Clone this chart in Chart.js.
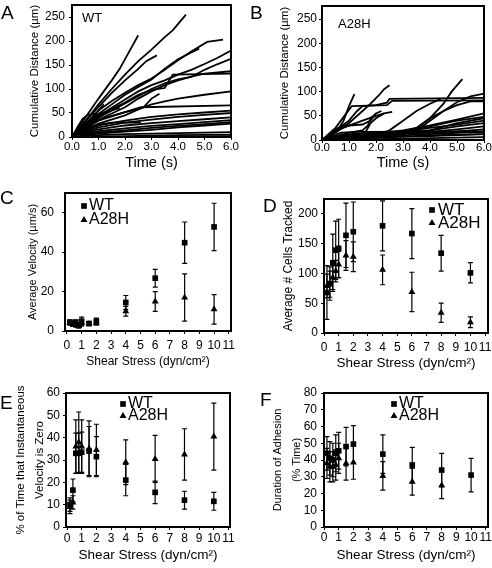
<!DOCTYPE html>
<html lang="en">
<head>
  <meta charset="UTF-8">
  <title>WT vs A28H rolling adhesion</title>
  <style>
    body { margin: 0; background: #fff; }
    #fig { position: relative; width: 492px; height: 568px; background: #fff; overflow: hidden; }
    #fig canvas { position: absolute; }
    .tag { position: absolute; font: 19px 'Liberation Sans', Arial, sans-serif; line-height: 1; color: #000; }
  </style>
</head>
<body>
  <div id="fig">
    <canvas id="cA" width="240" height="178" style="left:0;top:0"></canvas>
    <canvas id="cB" width="247" height="178" style="left:245px;top:0"></canvas>
    <canvas id="cC" width="245" height="192" style="left:0;top:180px"></canvas>
    <canvas id="cD" width="247" height="192" style="left:245px;top:180px"></canvas>
    <canvas id="cE" width="245" height="198" style="left:0;top:370px"></canvas>
    <canvas id="cF" width="247" height="198" style="left:245px;top:370px"></canvas>
    <div class="tag" style="left:1px;top:3px">A</div>
    <div class="tag" style="left:250px;top:3px">B</div>
    <div class="tag" style="left:0;top:188px">C</div>
    <div class="tag" style="left:263px;top:196px">D</div>
    <div class="tag" style="left:0;top:393px">E</div>
    <div class="tag" style="left:260px;top:390px">F</div>
  </div>

  <script src="https://cdn.jsdelivr.net/npm/chart.js@4.4.3/dist/chart.umd.min.js"></script>
  <script>
    // ---- data ----
    const timeTicks = [0, 1, 2, 3, 4, 5, 6];
    const distTicks = [0, 50, 100, 150, 200, 250];

    // cumulative distance tracks [time (s), distance (um)]
    const wtTracks = [
      [[0,0],[0.5,32],[1,68],[1.5,100],[2,130],[2.5,158],[3,182],[3.5,208],[3.8,222],[4.3,255]],
      [[0,0],[0.5,40],[1,80],[1.5,118],[1.8,142],[2.1,172],[2.3,192],[2.5,212]],
      [[0,0],[0.5,33],[1,62],[1.5,92],[2,118],[2.5,142],[2.8,158],[3.2,170]],
      [[0,0],[1,55],[1.5,75],[2,92],[2.5,108],[3,122],[3.5,140],[4,160],[4.5,178],[5.1,198],[5.7,203]],
      [[0,0],[1,48],[1.5,68],[2,88],[2.5,104],[3,120],[3.5,142],[4,162],[4.5,176],[4.8,184]],
      [[0,0],[1,44],[2,78],[2.5,95],[3,108],[3.5,118],[4,130],[4.5,140],[5,152],[5.5,165],[6,180]],
      [[0,0],[1,40],[2,70],[2.5,85],[3,100],[3.5,112],[4,120],[4.5,125],[5,140],[5.5,152],[6,163]],
      [[0,0],[1,36],[2,62],[2.5,80],[3,95],[3.5,108],[4,118],[4.5,126],[5,132],[6,137]],
      [[0,0],[1,42],[1.5,58],[2,72],[2.5,88],[3,98],[3.5,102],[3.8,130],[6,132]],
      [[0,0],[1,34],[2,52],[2.5,58],[3,68],[3.5,74],[4,80],[5,88],[6,95]],
      [[0,0],[0.5,22],[1,36],[1.5,44],[2,52],[2.6,62],[6,66]],
      [[0,0],[1,28],[2,45],[2.4,55],[2.7,62],[3.0,80],[3.3,90]],
      [[0,0],[1,24],[2,34],[3,42],[4,47],[5,51],[6,55]],
      [[0,0],[1,20],[2,30],[3,36],[4,42],[5,46],[6,50]],
      [[0,0],[1,16],[2,24],[3,29],[4,33],[5,37],[6,41]],
      [[0,0],[1,12],[2,18],[3,23],[4,27],[5,31],[6,35]],
      [[0,0],[1,9],[2,14],[3,19],[4,23],[5,27],[6,31]],
      [[0,0],[1,7],[2,11],[3,15],[4,20],[5,24],[6,28]],
      [[0,0],[1,4],[2,6],[3,7],[4,8],[5,9],[6,10]],
      [[0,0],[2,2],[4,4],[6,5]],
      [[0,0],[0.2,20],[0.4,38],[0.6,46],[0.9,48]],
      [[0,0],[0.5,18],[1,26],[1.5,30],[2.6,30]],
      [[0,0],[0.5,28],[1,48],[1.5,56],[1.8,60]],
      [[0,0],[0.3,15],[0.7,35],[1,55],[1.2,68]],
      [[3.8,0],[5,1],[6,2]]
    ];
    const a28hTracks = [
      [[0,0],[0.3,10],[0.6,22],[0.8,40],[1.0,70],[1.2,95]],
      [[0,0],[0.5,15],[1,35],[1.5,60],[1.8,75],[2.1,92],[2.3,105],[2.5,113]],
      [[0,0],[0.5,20],[1,40],[1.3,60],[1.5,70],[2.0,72],[2.4,77],[2.5,85],[6,87]],
      [[0,0],[0.5,25],[0.9,55],[1.1,70],[2.4,72],[2.6,81],[6,82]],
      [[0,0],[1,5],[2,10],[3,14],[3.5,25],[4,45],[4.5,75],[4.8,100],[5.2,126]],
      [[0,0],[1,5],[2,8],[3,12],[3.5,20],[4,40],[4.5,60],[5,78],[5.5,90],[6,96]],
      [[0,0],[2,6],[3,10],[3.5,25],[4,45],[4.5,60],[5,72],[5.5,80],[6,80]],
      [[0,0],[1,8],[1.6,15],[1.8,35],[2.0,45],[2.3,55],[2.6,58]],
      [[0,0],[0.5,18],[1,30],[1.5,40],[2,50],[2.3,55]],
      [[0,0],[1,5],[2,10],[2.5,20],[3,40],[3.5,60],[4,75],[4.4,85]],
      [[0,0],[1,8],[2,14],[3,20],[4,30],[5,42],[6,55]],
      [[0,0],[1,6],[2,12],[3,18],[4,28],[5,40],[6,48]],
      [[0,0],[1,7],[2,12],[3,15],[4,20],[5,35],[6,45]],
      [[0,0],[1,10],[2,14],[3,18],[4,25],[5,32],[6,40]],
      [[0,0],[1,12],[2,15],[3,17],[4,20],[5,28],[6,35]],
      [[0,0],[1,10],[2,14],[3,15],[4,17],[5,22],[6,28]],
      [[0,0],[1,8],[2,12],[3,14],[4,15],[5,18],[6,22]],
      [[0,0],[1,5],[2,8],[3,10],[4,12],[5,15],[6,17]],
      [[0,0],[1,3],[2,5],[3,7],[4,8],[5,10],[6,12]],
      [[0,0],[2,2],[4,4],[6,6]],
      [[0,0],[0.3,10],[0.6,25],[0.9,30],[1.1,40]],
      [[0,0],[0.5,20],[1,30],[1.5,32],[1.8,40],[2,55],[2.2,60]],
      [[0,0],[1,15],[1.5,20],[1.7,30],[1.8,45],[2.0,55]],
      [[0,0],[0.7,15],[1.3,17],[6,18]],
      [[0,0],[2,5],[4.3,10],[6,12]]
    ];

    const shear = [0.2, 0.4, 0.6, 0.8, 1, 1.5, 2, 4, 6, 8, 10];
    const shearTicks = [0, 1, 2, 3, 4, 5, 6, 7, 8, 9, 10, 11];

    const velTicks = [0, 20, 40, 60];
    const velWT = [4.5, 3.5, 4.5, 3, 5, 3.8, 5, 14.5, 26.8, 44.8, 52.8];
    const velWTErr = [1, 1, 1, 1, 2, 1, 1.5, 3.5, 4.5, 10.5, 12];
    const velA28H = [4, 3.5, 3, 2.5, 4, 3.5, 4, 10, 15, 17, 11];
    const velA28HErr = [1, 1, 1, 1, 1.5, 0.8, 1, 2.5, 5, 12, 7.5];

    const cellTicks = [0, 50, 100, 150, 200];
    const cellsWT = [68, 83, 118, 139, 142, 164, 170, 180, 167, 134, 101];
    const cellsWTErr = [45, 28, 48, 49, 49, 54, 50, 42, 42, 30, 17];
    const cellsA28H = [79, 82, 93, 104, 115, 130, 128, 106, 69, 34, 18];
    const cellsA28HErr = [20, 22, 20, 18, 22, 25, 25, 25, 33, 16, 9];

    const pauseTicks = [0, 10, 20, 30, 40, 50, 60];
    const pauseWT = [10, 16.5, 33, 33, 33.5, 34, 31.5, 21, 15.5, 12, 11.5];
    const pauseWTErr = [3, 5, 9, 9, 9, 11, 9, 7, 5, 4, 4];
    const pauseA28H = [9, 11, 36, 38, 36, 35, 34.5, 29, 30.5, 32.5, 40.5];
    const pauseA28HErr = [3, 3, 12, 13.5, 12, 12.5, 11.5, 10, 10.5, 11.5, 15];

    const adhTicks = [0, 10, 20, 30, 40, 50, 60, 70, 80];
    const adhWT = [44, 41, 40, 44, 45.5, 48, 49.5, 43.5, 37, 34, 31];
    const adhWTErr = [10, 10, 10, 11, 11, 11.5, 11, 11.5, 10.5, 10, 10];
    const adhA28H = [38, 36, 36, 37, 41, 38, 38.5, 30.5, 27, 25, null];
    const adhA28HErr = [9, 9, 9, 9, 9, 10, 10, 8.5, 8, 8, null];

    // ---- drawing ----
    const FONT = "'Liberation Sans', Arial, sans-serif";
    Chart.defaults.font.family = FONT;
    Chart.defaults.color = '#000';

    // error bars, plot frame, in-plot legend/notes
    const framePlugin = {
      id: 'frame',
      beforeDatasetsDraw(chart) {
        const {ctx, scales: {x, y}} = chart;
        ctx.save();
        ctx.strokeStyle = '#000';
        ctx.lineWidth = 1.2;
        chart.data.datasets.forEach(ds => {
          if (!ds.err) return;
          ds.data.forEach((p, i) => {
            const e = ds.err[i];
            if (p.y == null || e == null) return;
            const px = x.getPixelForValue(p.x);
            const hi = y.getPixelForValue(p.y + e);
            const lo = y.getPixelForValue(Math.max(p.y - e, 0));
            ctx.beginPath();
            ctx.moveTo(px, hi); ctx.lineTo(px, lo);
            ctx.moveTo(px - 2.5, hi); ctx.lineTo(px + 2.5, hi);
            ctx.moveTo(px - 2.5, lo); ctx.lineTo(px + 2.5, lo);
            ctx.stroke();
          });
        });
        ctx.restore();
      },
      afterDraw(chart, args, o) {
        const {ctx, chartArea: a} = chart;
        ctx.save();
        ctx.strokeStyle = '#000';
        ctx.lineWidth = 2;
        ctx.strokeRect(a.left, a.top, a.right - a.left, a.bottom - a.top);
        ctx.fillStyle = '#000';
        ctx.textBaseline = 'middle';
        if (o.note) {
          ctx.font = o.note.font + ' ' + FONT;
          ctx.fillText(o.note.text, o.note.x, o.note.y);
        }
        if (o.legend) {
          ctx.font = o.legend.font + ' ' + FONT;
          o.legend.rows.forEach((yy, i) => {
            const ds = chart.data.datasets[i];
            Chart.helpers.drawPoint(ctx, {pointStyle: ds.pointStyle, radius: ds.pointRadius, rotation: 0, borderWidth: 0}, o.legend.mx, yy);
            ctx.fillText(ds.label, o.legend.tx, yy);
          });
        }
        ctx.restore();
      }
    };

    function axes(o) {
      const tickGrid = {display: true, drawOnChartArea: false, drawTicks: true, tickLength: 3, color: '#000', lineWidth: 1};
      return {
        x: {
          type: 'linear', min: o.xmin, max: o.xmax,
          afterBuildTicks: s => { s.ticks = o.xticks.map(v => ({value: v})); },
          afterFit: s => { s.height = o.xh; s.paddingLeft = 0; s.paddingRight = 0; },
          grid: tickGrid, border: {display: false},
          ticks: {padding: o.xpad, autoSkip: false, maxRotation: 0, font: {size: o.xtf},
                  callback: o.xfmt || (v => v)},
          title: {display: true, text: o.xtitle, font: {size: o.xts}, padding: {top: 0, bottom: o.xtp}}
        },
        y: {
          type: 'linear', min: 0, max: o.ymax,
          afterBuildTicks: s => { s.ticks = o.yticks.map(v => ({value: v})); },
          afterFit: s => { s.width = o.yw; s.paddingTop = 0; s.paddingBottom = 0; },
          grid: tickGrid, border: {display: false},
          ticks: {padding: o.ypad, autoSkip: false, font: {size: 12}},
          title: {display: true, text: o.ytitle, font: {size: o.yts, lineHeight: o.ylh || 1.2},
                  padding: {top: o.ytp, bottom: 0}}
        }
      };
    }

    function baseOptions(o, frame) {
      return {
        responsive: false,
        animation: false,
        events: [],
        layout: {padding: {top: o.pt, right: o.pr, left: 0, bottom: 0}},
        plugins: {legend: {display: false}, tooltip: {enabled: false}, frame: frame},
        scales: axes(o)
      };
    }

    function trackChart(id, tracks, o, note) {
      new Chart(document.getElementById(id), {
        type: 'scatter',
        data: {
          datasets: tracks.map(t => ({
            data: t.map(p => ({x: p[0], y: p[1]})),
            showLine: true, borderColor: '#000', borderWidth: 1.8, pointRadius: 0, tension: 0
          }))
        },
        options: baseOptions(o, {note: note}),
        plugins: [framePlugin]
      });
    }

    function pairs(ys) { return shear.map((x, i) => ({x: x, y: ys[i]})); }

    function statChart(id, wt, wtErr, mut, mutErr, o, legend) {
      new Chart(document.getElementById(id), {
        type: 'scatter',
        data: {
          datasets: [
            {label: 'WT', data: pairs(wt), err: wtErr, pointStyle: 'rect', pointRadius: 4,
             backgroundColor: '#000', borderWidth: 0},
            {label: 'A28H', data: pairs(mut), err: mutErr, pointStyle: 'triangle', pointRadius: 4,
             backgroundColor: '#000', borderWidth: 0}
          ]
        },
        options: baseOptions(o, {legend: legend}),
        plugins: [framePlugin]
      });
    }

    const fixed1 = v => Number(v).toFixed(1);

    trackChart('cA', wtTracks, {
      pt: 5, pr: 9, yw: 72, xh: 41, xmin: 0, xmax: 6, ymax: 275,
      xticks: timeTicks, yticks: distTicks, xfmt: fixed1, xtf: 11.5, xpad: 0, ypad: 4,
      xtitle: 'Time (s)', xts: 14.5, xtp: 6,
      ytitle: 'Cumulative Distance (\u00b5m)', yts: 11.5, ytp: 28
    }, {text: 'WT', x: 82, y: 18, font: '13px'});

    trackChart('cB', a28hTracks, {
      pt: 6, pr: 8, yw: 77, xh: 38, xmin: 0, xmax: 6, ymax: 277,
      xticks: timeTicks, yticks: distTicks, xfmt: fixed1, xtf: 11.5, xpad: -2, ypad: 2,
      xtitle: 'Time (s)', xts: 14.5, xtp: 6,
      ytitle: 'Cumulative Distance (\u00b5m)', yts: 11.5, ytp: 33
    }, {text: 'A28H', x: 93, y: 24, font: '13px'});

    statChart('cC', velWT, velWTErr, velA28H, velA28HErr, {
      pt: 13, pr: 14, yw: 65, xh: 41, xmin: -0.13, xmax: 11.15, ymax: 70,
      xticks: shearTicks, yticks: velTicks, xtf: 12, xpad: 4, ypad: 8,
      xtitle: 'Shear Stress (dyn/cm\u00b2)', xts: 12, xtp: 3,
      ytitle: 'Average Velocity (\u00b5m/s)', yts: 11, ytp: 26
    }, {font: '16px', mx: 84, tx: 89, rows: [26, 40]});

    statChart('cD', cellsWT, cellsWTErr, cellsA28H, cellsA28HErr, {
      pt: 19, pr: 1.5, yw: 79, xh: 39, xmin: 0, xmax: 11.2, ymax: 225,
      xticks: shearTicks, yticks: cellTicks, xtf: 12, xpad: 4, ypad: 3,
      xtitle: 'Shear Stress (dyn/cm\u00b2)', xts: 13.5, xtp: 1,
      ytitle: 'Average # Cells Tracked', yts: 12, ytp: 36
    }, {font: '17px', mx: 187, tx: 193, rows: [30, 43]});

    statChart('cE', pauseWT, pauseWTErr, pauseA28H, pauseA28HErr, {
      pt: 23, pr: 15, yw: 66, xh: 41, xmin: -0.07, xmax: 11.1, ymax: 60,
      xticks: shearTicks, yticks: pauseTicks, xtf: 12, xpad: 1, ypad: 3,
      xtitle: 'Shear Stress (dyn/cm\u00b2)', xts: 13.5, xtp: 5,
      ytitle: ['% of Time that Instantaneous', 'Velocity is Zero'], yts: 11.5, ylh: 1.65, ytp: 11.5
    }, {font: '16px', mx: 123, tx: 128, rows: [34, 46]});

    statChart('cF', adhWT, adhWTErr, adhA28H, adhA28HErr, {
      pt: 23, pr: 3, yw: 79, xh: 41, xmin: 0, xmax: 11.15, ymax: 80,
      xticks: shearTicks, yticks: adhTicks, xtf: 12, xpad: 0, ypad: 4,
      xtitle: 'Shear Stress (dyn/cm\u00b2)', xts: 13.5, xtp: 5,
      ytitle: ['Duration of Adhesion', '(% Time)'], yts: 11, ylh: 1.7, ytp: 23.5
    }, {font: '16px', mx: 149, tx: 154, rows: [34, 46]});
  </script>
</body>
</html>
